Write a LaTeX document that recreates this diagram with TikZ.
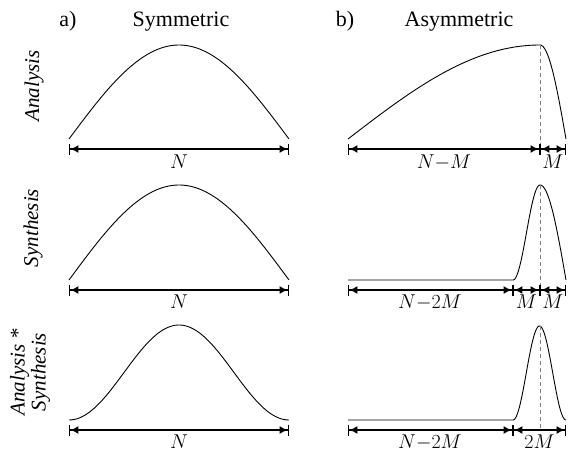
\RequirePackage{fix-cm}
\documentclass[tikz,border=0pt]{standalone}
\usepackage[no-math]{fontspec}
\setmainfont{Liberation Serif}
\usetikzlibrary{arrows.meta}
\begin{document}
\begin{tikzpicture}[x=1pt,y=-1pt,
  curve/.style={line width=0.9pt},
  dim/.style={line width=1.4pt,{Bar[width=11pt,line width=1.4pt]Latex[length=8pt,width=8pt]}-{Latex[length=8pt,width=8pt]Bar[width=11pt,line width=1.4pt]}},
  guide/.style={gray,line width=0.6pt,dash pattern=on 4pt off 3pt},
  lbl/.style={font=\fontsize{20}{24}\selectfont,anchor=base,inner sep=0pt},
  ttl/.style={font=\fontsize{22}{25}\selectfont,anchor=base,inner sep=0pt},
  rowlbl/.style={font=\fontsize{21}{21}\selectfont\itshape,rotate=90,align=center,inner sep=0pt}]
\useasboundingbox (0,0) rectangle (571,452);

% titles
\node[ttl] (ta) at (68,27) {a)};
\node[ttl] (ts) at (181,27) {Symmetric};
\node[ttl] (tb) at (345,27) {b)};
\node[ttl] (tas) at (459,27) {Asymmetric};

% row labels
\node[rowlbl] (r1) at (34,86) {Analysis};
\node[rowlbl] (r2) at (33,228) {Synthesis};
\node[rowlbl] (r3) at (30,372) {Analysis *\\Synthesis};

% ---------- left column ----------
\draw[curve] plot[domain=0:1,samples=90,variable=\t] ({69+220*\t},{139-94*sin(180*\t)});
\draw[curve] plot[domain=0:1,samples=90,variable=\t] ({69+220*\t},{280-95*sin(180*\t)});
\draw[curve] plot[domain=0:1,samples=90,variable=\t] ({69+220*\t},{420-95*sin(180*\t)^2});

\coordinate (L1a) at (69,149); \coordinate (L1b) at (289,149);
\coordinate (L2a) at (69,290); \coordinate (L2b) at (289,290);
\coordinate (L3a) at (69,430); \coordinate (L3b) at (289,430);
\draw[dim] (L1a) -- (L1b);
\draw[dim] (L2a) -- (L2b);
\draw[dim] (L3a) -- (L3b);
\node[lbl] (nL1) at (179,168) {$N$};
\node[lbl] (nL2) at (179,308) {$N$};
\node[lbl] (nL3) at (179,448) {$N$};

% ---------- right column ----------
% row 1
\draw[curve] plot[domain=0:1,samples=90,variable=\t] ({348+192*\t},{139-94*sin(90*\t)})
  -- plot[domain=0:1,samples=40,variable=\t] ({540+26*\t},{45+94*(1-cos(90*\t))});
\coordinate (P1) at (540,45);
\coordinate (R1a) at (348,149); \coordinate (R1m) at (540,149); \coordinate (R1b) at (566,149);
\draw[guide] (P1) -- (R1m);
\draw[dim] (R1a) -- (R1m);
\draw[dim] (R1m) -- (R1b);
\node[lbl] (nR1a) at (444,168) {$N{-}M$};
\node[lbl] (nR1b) at (553,168) {$M$};

% row 2
\draw[curve] (348,280) -- (513,280)
  -- plot[domain=0:1,samples=40,variable=\t] ({513+27*\t},{280-95*sin(90*\t)^2})
  -- plot[domain=0:1,samples=40,variable=\t] ({540+26*\t},{280-95*cos(90*\t)});
\coordinate (P2) at (540,185);
\coordinate (R2a) at (348,290); \coordinate (R2m) at (513,290); \coordinate (R2c) at (540,290); \coordinate (R2b) at (566,290);
\draw[guide] (P2) -- (R2c);
\draw[dim] (R2a) -- (R2m);
\draw[dim] (R2m) -- (R2c);
\draw[dim] (R2c) -- (R2b);
\node[lbl] (nR2a) at (430,308) {$N{-}2M$};
\node[lbl] (nR2b) at (526.5,308) {$M$};
\node[lbl] (nR2c) at (553,308) {$M$};

% row 3
\draw[curve] (348,420) -- (513,420)
  -- plot[domain=0:1,samples=60,variable=\t] ({513+53*\t},{420-94*sin(180*\t)^2});
\coordinate (P3) at (540,326);
\coordinate (R3a) at (348,430); \coordinate (R3m) at (513,430); \coordinate (R3c) at (540,430); \coordinate (R3b) at (566,430);
\draw[guide] (P3) -- (R3c);
\draw[dim] (R3a) -- (R3m);
\draw[dim] (R3m) -- (R3b);
\node[lbl] (nR3a) at (430,448) {$N{-}2M$};
\node[lbl] (nR3b) at (539.5,448) {$2M$};
\end{tikzpicture}
\end{document}
